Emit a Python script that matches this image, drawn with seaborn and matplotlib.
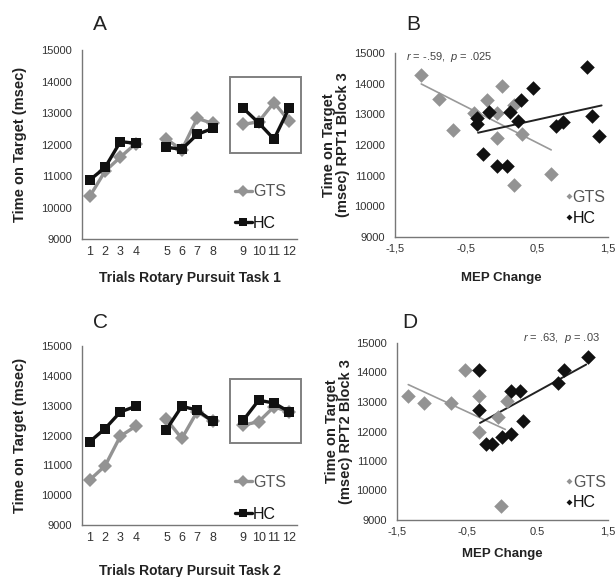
import matplotlib
matplotlib.use("Agg")
import matplotlib.pyplot as plt
from matplotlib.lines import Line2D
from matplotlib.patches import Rectangle
import numpy as np
import pandas as pd
import seaborn as sns

# ---- data ----
trials = list(range(1, 13))
trial_block = [1, 1, 1, 1, 2, 2, 2, 2, 3, 3, 3, 3]

a_gts = [10350, 11150, 11600, 12030, 12170, 11830, 12830, 12670, 12640, 12720, 13330, 12740]
a_hc = [10870, 11270, 12090, 12040, 11910, 11850, 12320, 12510, 13150, 12690, 12170, 13170]

c_gts = [10510, 10980, 11980, 12310, 12540, 11900, 12800, 12480, 12350, 12460, 12960, 12790]
c_hc = [11790, 12230, 12790, 12980, 12200, 12980, 12850, 12480, 12510, 13180, 13090, 12790]

b_gts_x = [-1.13, -0.88, -0.69, -0.39, -0.20, 0.01, -0.06, -0.07, 0.29, 0.18, 0.70, 0.18]
b_gts_y = [14290, 13510, 12490, 13040, 13470, 13910, 13040, 12220, 12350, 10710, 11040, 13300]
b_hc_x = [1.21, 0.45, 0.28, 0.12, -0.18, -0.34, -0.34, 0.23, 0.77, 0.87, 1.27, 1.37, -0.26, -0.07, 0.08]
b_hc_y = [14530, 13860, 13470, 13060, 13060, 12870, 12690, 12770, 12620, 12740, 12950, 12300, 11700, 11330, 11330]
b_gts_fit_x = [-1.13, 0.70]
b_gts_fit_y = [13990, 11840]
b_hc_fit_x = [-0.33, 1.41]
b_hc_fit_y = [12400, 13290]

d_gts_x = [-1.34, -1.12, -0.73, -0.53, -0.34, -0.34, 0.06, -0.07, -0.02]
d_gts_y = [13200, 12950, 12970, 14100, 13200, 11990, 13030, 12480, 9480]
d_hc_x = [1.22, 0.87, 0.79, -0.34, -0.33, 0.12, 0.25, 0.29, -0.23, -0.15, -0.01, 0.12]
d_hc_y = [14530, 14080, 13630, 14080, 12720, 13370, 13370, 12360, 11570, 11570, 11820, 11910]
d_gts_fit_x = [-1.34, 0.04]
d_gts_fit_y = [13590, 12070]
d_hc_fit_x = [-0.32, 1.19]
d_hc_fit_y = [12290, 14270]

yticks = [9000, 10000, 11000, 12000, 13000, 14000, 15000]

GTS = "#939393"
HC = "#111111"
TXT = "#333333"

sns.set_theme(style="white")
plt.rcParams["font.family"] = ["Liberation Sans", "DejaVu Sans"]
plt.rcParams["mathtext.fontset"] = "custom"
plt.rcParams["mathtext.it"] = "Liberation Sans:italic"
plt.rcParams["mathtext.rm"] = "Liberation Sans"

fig = plt.figure(figsize=(6.16, 5.77), dpi=100)
W, H = 616, 577


def add_ax(left, right, top, bottom):
    return fig.add_axes([left / W, 1 - bottom / H, (right - left) / W, (bottom - top) / H])


def style_axes(ax):
    sns.despine(ax=ax)
    for s in ["left", "bottom"]:
        ax.spines[s].set_color("#777777")
        ax.spines[s].set_linewidth(1.0)
    ax.set_ylim(9000, 15000)
    ax.set_yticks(yticks)
    ax.set_yticklabels([str(v) for v in yticks], fontsize=8, color=TXT)
    ax.tick_params(axis="both", length=3, width=0.8, color="#777777", pad=2)
    ax.tick_params(axis="y", direction="inout", length=4, pad=5)


def make_legend(ax, handles, anchor, hlen, spacing):
    leg = ax.legend(handles, ["GTS", "HC"], loc="upper left", bbox_to_anchor=anchor,
                    frameon=False, handlelength=hlen, handletextpad=0.05, labelspacing=spacing,
                    borderpad=0, borderaxespad=0, prop={"size": 11.5})
    leg.get_texts()[0].set_color("#555555")
    leg.get_texts()[1].set_color("#111111")


def line_panel(ax, gts, hc, xlabel, box, leg_y):
    # positions with blank slots between the blocks
    pos = [t + b - 1 for t, b in zip(trials, trial_block)]
    df = pd.DataFrame({
        "pos": pos * 2,
        "val": gts + hc,
        "group": ["GTS"] * 12 + ["HC"] * 12,
        "block": trial_block * 2,
    })
    for grp, col, mk in [("GTS", GTS, "D"), ("HC", HC, "s")]:
        sub = df[df.group == grp]
        sns.lineplot(data=sub, x="pos", y="val", units="block", estimator=None, ax=ax,
                     color=col, marker=mk, markersize=7, markeredgewidth=0, linewidth=2.4,
                     legend=False)
    ax.set_xlim(0.5, 14.5)
    ax.set_xticks(pos)
    ax.set_xticklabels([str(t) for t in trials], fontsize=9, color=TXT)
    ax.set_xticks(np.arange(0.5, 15, 1), minor=True)
    style_axes(ax)
    ax.tick_params(axis="x", which="major", length=0, pad=5)
    ax.tick_params(axis="x", which="minor", length=3, width=0.8, color="#999999", direction="inout")
    ax.set_xlabel(xlabel, fontsize=10, fontweight="bold", color="#222222")
    ax.set_ylabel("Time on Target (msec)", fontsize=10.5, fontweight="bold", color="#222222")
    ax.yaxis.set_label_coords(-0.255, 0.5)
    ax.add_patch(Rectangle((box[0], box[2]), box[1] - box[0], box[3] - box[2], fill=False,
                           edgecolor="#808080", linewidth=1.4, clip_on=False))
    handles = [Line2D([], [], color=GTS, marker="D", markersize=6, markeredgewidth=0, lw=2.4),
               Line2D([], [], color=HC, marker="s", markersize=6, markeredgewidth=0, lw=2.4)]
    make_legend(ax, handles, (0.71, leg_y), 1.1, 1.05)


def scatter_panel(ax, gx, gy, hx, hy, gfit, hfit, ylabel, xticklabels, note, note_pos, note_ha):
    sns.lineplot(x=gfit[0], y=gfit[1], ax=ax, color="#999999", linewidth=1.2, legend=False)
    sns.lineplot(x=hfit[0], y=hfit[1], ax=ax, color="#222222", linewidth=1.4, legend=False)
    sns.scatterplot(x=gx, y=gy, ax=ax, color=GTS, marker="D", s=55, linewidth=0, zorder=3)
    sns.scatterplot(x=hx, y=hy, ax=ax, color=HC, marker="D", s=55, linewidth=0, zorder=4)
    ax.set_xlim(-1.5, 1.5)
    ax.set_xticks([-1.5, -0.5, 0.5, 1.5])
    ax.set_xticklabels(xticklabels, fontsize=8, color=TXT)
    style_axes(ax)
    ax.set_xlabel("MEP Change", fontsize=9.5, fontweight="bold", color="#222222")
    ax.set_ylabel(ylabel, fontsize=10.5, fontweight="bold", color="#222222", linespacing=1.0)
    ax.yaxis.set_label_coords(-0.21, 0.5)
    ax.text(note_pos[0], note_pos[1], note, transform=ax.transAxes, fontsize=8,
            color="#444444", ha=note_ha, va="center")
    handles = [Line2D([], [], color=GTS, marker="D", markersize=3, lw=0, markeredgewidth=0),
               Line2D([], [], color=HC, marker="D", markersize=3, lw=0, markeredgewidth=0)]
    make_legend(ax, handles, (0.8, 0.255), 0.4, 0.35)


ax_a = add_ax(82, 297, 50, 239)
line_panel(ax_a, a_gts, a_hc, "Trials Rotary Pursuit Task 1", (10.15, 14.75, 11730, 14140), 0.29)
ax_a.xaxis.set_label_coords(0.5, -0.17)

ax_c = add_ax(82, 297, 346, 525)
line_panel(ax_c, c_gts, c_hc, "Trials Rotary Pursuit Task 2", (10.15, 14.75, 11750, 13890), 0.28)
ax_c.xaxis.set_label_coords(0.5, -0.22)

ax_b = add_ax(395, 608, 53, 237)
scatter_panel(ax_b, b_gts_x, b_gts_y, b_hc_x, b_hc_y, (b_gts_fit_x, b_gts_fit_y),
              (b_hc_fit_x, b_hc_fit_y), "Time on Target\n(msec) RPT1 Block 3",
              ["-1,5", "-0,5", "0,5", "1,5"], "$r$ = -.59,  $p$ = .025", (0.05, 0.98), "left")
ax_b.xaxis.set_label_coords(0.5, -0.19)

ax_d = add_ax(397, 608, 343, 520)
scatter_panel(ax_d, d_gts_x, d_gts_y, d_hc_x, d_hc_y, (d_gts_fit_x, d_gts_fit_y),
              (d_hc_fit_x, d_hc_fit_y), "Time on Target\n(msec) RPT2 Block 3",
              ["-1,5", "-0,5", "0.5", "1,5"], "$r$ = .63,  $p$ = .03", (0.96, 1.03), "right")
ax_d.xaxis.set_label_coords(0.5, -0.16)

for letter, x, y in [("A", 100, 24), ("B", 413, 24), ("C", 100, 322), ("D", 410, 322)]:
    fig.text(x / W, 1 - y / H, letter, fontsize=15, ha="center", va="center", color="#222222")

fig.savefig("out.png", dpi=100, facecolor="white")
